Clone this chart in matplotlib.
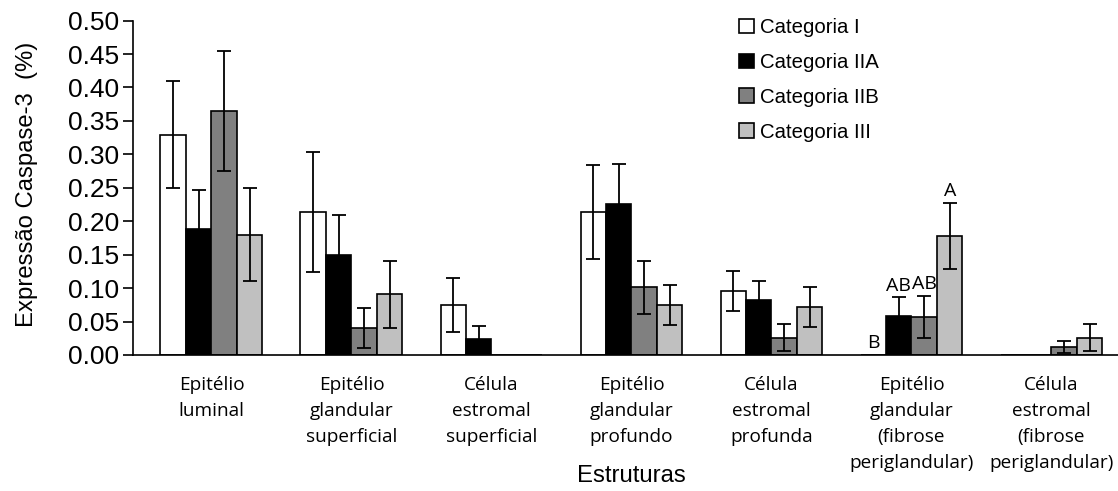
import numpy as np
import matplotlib
matplotlib.use('Agg')
import matplotlib.pyplot as plt

plt.rcParams['font.family'] = ['Liberation Sans', 'DejaVu Sans']

estruturas = ['Epitélio\nluminal', 'Epitélio\nglandular\nsuperficial',
              'Célula\nestromal\nsuperficial', 'Epitélio\nglandular\nprofundo',
              'Célula\nestromal\nprofunda', 'Epitélio\nglandular\n(fibrose\nperiglandular)',
              'Célula\nestromal\n(fibrose\nperiglandular)']
categorias = ['Categoria I', 'Categoria IIA', 'Categoria IIB', 'Categoria III']

cat_I = [0.329, 0.214, 0.075, 0.214, 0.096, 0.0, 0.0]
cat_IIA = [0.188, 0.149, 0.024, 0.226, 0.082, 0.058, 0.0]
cat_IIB = [0.365, 0.040, 0.0, 0.101, 0.026, 0.057, 0.012]
cat_III = [0.180, 0.091, 0.0, 0.075, 0.072, 0.178, 0.026]

err_I = [0.080, 0.090, 0.040, 0.070, 0.030, 0.0, 0.0]
err_IIA = [0.059, 0.060, 0.020, 0.060, 0.028, 0.028, 0.0]
err_IIB = [0.090, 0.030, 0.0, 0.040, 0.020, 0.031, 0.009]
err_III = [0.070, 0.050, 0.0, 0.030, 0.030, 0.050, 0.020]

# letras de significancia no grupo "Epitélio glandular (fibrose periglandular)"
letras = {(5, 0): 'B', (5, 1): 'AB', (5, 2): 'AB', (5, 3): 'A'}

valores = [cat_I, cat_IIA, cat_IIB, cat_III]
erros = [err_I, err_IIA, err_IIB, err_III]
cores = ['white', 'black', '#808080', '#c0c0c0']

fig = plt.figure(figsize=(11.18, 4.91), dpi=100)
ax = fig.add_axes([0.119, 0.277, 0.881, 0.681])

x = np.arange(len(estruturas))
w = 0.182
for k in range(4):
    pos = x + (k - 1.5) * w
    ax.bar(pos, valores[k], width=w, color=cores[k], edgecolor='black',
           linewidth=1.2, label=categorias[k], zorder=2)
    yerr = np.array(erros[k])
    mask = yerr > 0
    ax.errorbar(pos[mask], np.array(valores[k])[mask], yerr=yerr[mask], fmt='none',
                ecolor='black', elinewidth=1.3, capsize=5, capthick=1.3, zorder=3)

for (g, k), txt in letras.items():
    top = valores[k][g] + erros[k][g]
    ax.text(x[g] + (k - 1.5) * w, top + 0.004, txt, ha='center', va='bottom',
            fontsize=14, family=['Open Sans', 'DejaVu Sans'])

ax.set_ylim(0, 0.5)
ax.set_xlim(-0.56, 6.475)
ax.set_yticks(np.arange(0, 0.501, 0.05))
ax.set_yticklabels(['%.2f' % v for v in np.arange(0, 0.501, 0.05)], fontsize=19)
ax.set_xticks(x)
ax.set_xticklabels(estruturas, fontsize=13.7, family=['Open Sans', 'DejaVu Sans'],
                   linespacing=1.58, va='top')
ax.tick_params(axis='x', length=0, pad=15)
ax.tick_params(axis='y', length=7, width=1.2, pad=3)
for s in ['top', 'right']:
    ax.spines[s].set_visible(False)
ax.spines['left'].set_linewidth(1.2)
ax.spines['bottom'].set_linewidth(1.2)

fig.text(0.024, 0.625, 'Expressão Caspase-3  (%)', rotation=90, ha='center', va='center',
         fontsize=17.2)
fig.text(0.565, 0.008, 'Estruturas', ha='center', va='bottom', fontsize=17.2)

leg = ax.legend(loc='upper left', bbox_to_anchor=(0.597, 1.063), frameon=False,
                prop={'size': 14.7}, handlelength=0.7,
                handleheight=0.7, handletextpad=0.3, labelspacing=0.78)

fig.savefig('out.png', dpi=100)
